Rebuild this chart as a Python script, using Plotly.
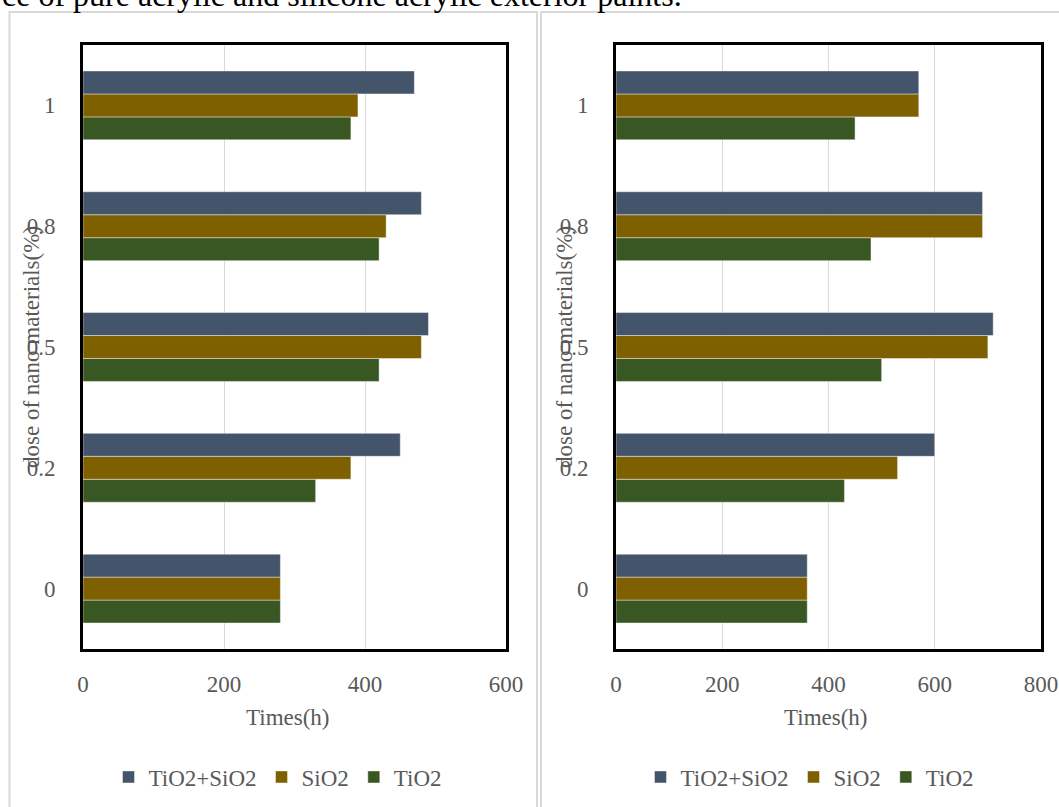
import plotly.graph_objects as go

# Dose of nano materials (%) on the category axis
doses = ["0", "0.2", "0.5", "0.8", "1"]

# Times (h) for the pure acrylic paint
acrylic_tio2 = [280, 330, 420, 420, 380]
acrylic_sio2 = [280, 380, 480, 430, 390]
acrylic_combo = [280, 450, 490, 480, 470]

# Times (h) for the silicone acrylic paint
silicone_tio2 = [360, 430, 500, 480, 450]
silicone_sio2 = [360, 530, 700, 690, 570]
silicone_combo = [360, 600, 710, 690, 570]

x_ticks_left = [0, 200, 400, 600]
x_ticks_right = [0, 200, 400, 600, 800]

W, H = 1059, 807
FONT = "Liberation Serif, Times New Roman, serif"
GREY = "#595959"
COL_COMBO = "#44546A"
COL_SIO2 = "#7F6000"
COL_TIO2 = "#385723"


def px_x(p):
    return p / W


def px_y(p):
    return 1 - p / H


fig = go.Figure()

series = [
    ("TiO2", COL_TIO2, acrylic_tio2, silicone_tio2),
    ("SiO2", COL_SIO2, acrylic_sio2, silicone_sio2),
    ("TiO2+SiO2", COL_COMBO, acrylic_combo, silicone_combo),
]
for name, color, left_vals, right_vals in series:
    fig.add_trace(go.Bar(
        y=doses, x=left_vals, name=name, orientation="h",
        marker=dict(color=color, line=dict(color="rgba(255,255,255,0.55)", width=0.8)),
        xaxis="x", yaxis="y", legend="legend",
    ))
    fig.add_trace(go.Bar(
        y=doses, x=right_vals, name=name, orientation="h",
        marker=dict(color=color, line=dict(color="rgba(255,255,255,0.55)", width=0.8)),
        xaxis="x2", yaxis="y2", legend="legend2",
    ))

tick_font = dict(family=FONT, size=23, color=GREY)
frame = dict(showline=True, mirror=True, linecolor="black", linewidth=3)

y_dom = [px_y(649), px_y(45)]
xl = [px_x(83), px_x(506)]
xr = [px_x(616), px_x(1041)]

common_x = dict(showgrid=True, gridcolor="#D9D9D9", gridwidth=1.3, zeroline=False,
                ticks="", tickfont=tick_font, ticklabelstandoff=12,
                ticklabeloverflow="allow", automargin=False, **frame)
common_y = dict(type="category", categoryorder="array", categoryarray=doses,
                range=[-0.5, 4.5], showgrid=False, zeroline=False, ticks="",
                tickfont=tick_font, ticklabelstandoff=20, automargin=False, **frame)

legend_common = dict(orientation="h", traceorder="reversed",
                     font=dict(family=FONT, size=23, color=GREY),
                     xanchor="center", yanchor="middle", y=px_y(777),
                     bgcolor="rgba(0,0,0,0)", itemwidth=30)

fig.update_layout(
    template="none",
    width=W, height=H,
    margin=dict(l=0, r=0, t=0, b=0, autoexpand=False),
    paper_bgcolor="white", plot_bgcolor="white",
    barmode="group", bargap=0.43, bargroupgap=0,
    xaxis=dict(domain=xl, range=[0, 600], tickvals=x_ticks_left, anchor="y", **common_x),
    yaxis=dict(domain=y_dom, anchor="x", **common_y),
    xaxis2=dict(domain=xr, range=[0, 800], tickvals=x_ticks_right, anchor="y2", **common_x),
    yaxis2=dict(domain=y_dom, anchor="x2", **common_y),
    legend=dict(x=px_x(278), **legend_common),
    legend2=dict(x=px_x(810), **legend_common),
    showlegend=True,
)

# Chart-area borders of the two panels
for x0, x1 in [(9.5, 537), (541, 1075)]:
    fig.add_shape(type="rect", xref="paper", yref="paper",
                  x0=px_x(x0), x1=px_x(x1), y0=px_y(830), y1=px_y(12),
                  line=dict(color="#D9D9D9", width=2), layer="below")

axis_title_font = dict(family=FONT, size=23, color=GREY)
for cx, ylab_x in [(288, 31), (826, 564)]:
    fig.add_annotation(text="Times(h)", xref="paper", yref="paper",
                       x=px_x(cx), y=px_y(717), xanchor="center", yanchor="middle",
                       showarrow=False, font=axis_title_font)
    fig.add_annotation(text="dose of nano materials(%)", xref="paper", yref="paper",
                       x=px_x(ylab_x), y=px_y(347), xanchor="center", yanchor="middle",
                       textangle=-90, showarrow=False, font=axis_title_font)

# Caption line running along the top edge
fig.add_annotation(text="ce of pure acrylic and silicone acrylic exterior paints.",
                   xref="paper", yref="paper", x=0, y=px_y(-4.5),
                   xanchor="left", yanchor="middle", showarrow=False,
                   font=dict(family=FONT, size=32, color="black"))

fig.write_html("out.html")
